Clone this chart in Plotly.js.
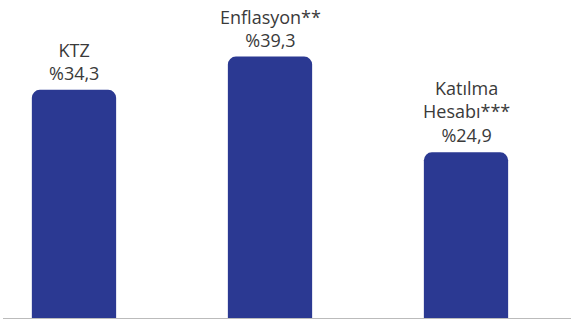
<!DOCTYPE html>
<html>
<head>
<meta charset="utf-8">
<script src="https://cdn.plot.ly/plotly-3.0.1.min.js"></script>
<style>html,body{margin:0;padding:0;background:#fff}#chart{width:571px;height:320px}</style>
</head>
<body>
<div id="chart"></div>
<script>
const categories = ["KTZ", "Enflasyon**", "Katılma<br>Hesabı***"];
const values = [34.3, 39.3, 24.9];

const labels = categories.map((c, i) => c + "<br>%" + values[i].toFixed(1).replace(".", ","));

const trace = {
  type: "bar",
  x: [0, 1, 2],
  y: values,
  width: 0.43,
  marker: { color: "#2B3992", cornerradius: 8 },
  hoverinfo: "none"
};

const annotations = values.map((v, i) => ({
  x: i,
  y: v,
  xref: "x",
  yref: "y",
  text: labels[i],
  showarrow: false,
  xanchor: "center",
  yanchor: "bottom",
  yshift: 3,
  align: "center",
  font: { family: "Open Sans, sans-serif", size: 18, color: "#3a3a3a" }
}));

const layout = {
  width: 571,
  height: 320,
  margin: { l: 3, r: 0, t: 0, b: 2 },
  paper_bgcolor: "#fff",
  plot_bgcolor: "#fff",
  showlegend: false,
  annotations: annotations,
  xaxis: {
    range: [-0.3622, 2.5357],
    showticklabels: false,
    showgrid: false,
    zeroline: false,
    showline: true,
    linecolor: "#bbbbbb",
    linewidth: 1,
    ticks: ""
  },
  yaxis: {
    range: [0, 47.8],
    visible: false,
    showgrid: false,
    zeroline: false
  }
};

Plotly.newPlot("chart", [trace], layout, { displayModeBar: false, staticPlot: true });
</script>
</body>
</html>
